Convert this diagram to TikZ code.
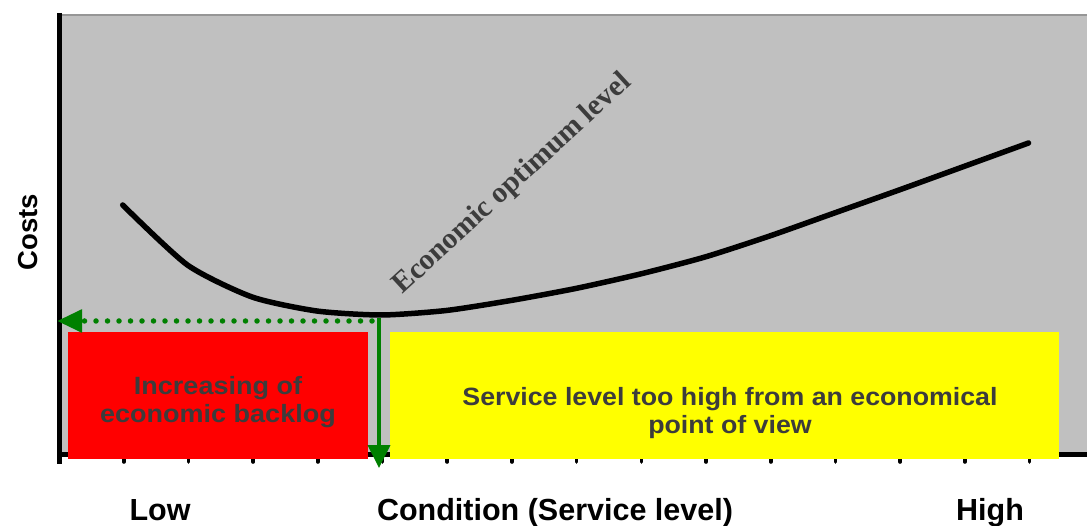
\documentclass[tikz,border=0pt]{standalone}
\usepackage{fontspec}
\setmainfont{Liberation Sans}
\newfontfamily\serifbold{Liberation Serif}
\usetikzlibrary{arrows.meta}
\definecolor{plotgray}{RGB}{192,192,192}
\definecolor{topline}{RGB}{150,150,150}
\definecolor{grn}{RGB}{0,128,0}
\definecolor{redbox}{RGB}{255,0,0}
\definecolor{yellowbox}{RGB}{255,255,0}
\definecolor{boxtext}{RGB}{60,60,60}
\tikzset{
  axisline/.style={line width=5pt, black},
  tickmark/.style={line width=3.6pt, black, line cap=round},
  costcurve/.style={line width=5.5pt, black, line cap=round, line join=round},
  zonebox/.style={draw=none, inner sep=0pt, anchor=north west},
  boxlabel/.style={align=center, text=boxtext, font=\fontsize{25}{28}\selectfont\bfseries},
  axislabel/.style={font=\fontsize{30.5}{34}\selectfont\bfseries, anchor=base},
  greenarrow/.style={grn, line width=4pt, -{Triangle[length=23pt,width=22pt]}},
  greendots/.style={grn, line width=5.5pt, line cap=round, dash pattern=on 0pt off 11.5pt, -{Triangle[length=25pt,width=22pt]}}
}
\begin{document}
\begin{tikzpicture}[x=1pt,y=-1pt]
\useasboundingbox (0,0) rectangle (1087,526);
\fill[white] (0,0) rectangle (1087,526);
% plot area
\fill[plotgray] (59,15) rectangle (1087,454);
\draw[topline, line width=1.5pt] (59,15) -- (1087,15);
% cost curve
\draw[costcurve] plot[smooth, tension=0.4] coordinates {
 (122.7,205) (187.4,265) (252.1,297) (316.8,311) (381.5,315) (446.2,310.5)
 (510.9,300.5) (575.6,288.5) (640.3,274) (705,257) (769.7,236) (834.4,213)
 (899.1,190) (963.8,166.5) (1028.5,143)};
% axes
\draw[axisline] (59,454) -- (1087,454);
\draw[axisline] (59,13) -- (59,464);
\foreach \k in {1,...,15} {
  \draw[tickmark] ({59+64.7*\k},455) -- ({59+64.7*\k},462);
}
% zones
\node[zonebox, fill=redbox, minimum width=300pt, minimum height=127pt] (red) at (68,332) {};
\node[zonebox, fill=yellowbox, minimum width=669pt, minimum height=127pt] (yellow) at (390,332) {};
\node[boxlabel, xscale=1.08] (redtxt) at (218,402) {Increasing of\\economic backlog};
\node[boxlabel, xscale=1.07] (yeltxt) at (730,413) {Service level too high from an economical\\point of view};
% optimum markers
\coordinate (opt) at (379,318);
\coordinate (optdot) at (372,321);
\coordinate (yhit) at (57,321);
\coordinate (xhit) at (379,468);
\draw[greendots] (optdot) -- (yhit);
\draw[greenarrow] (opt) -- (xhit);
% labels
\node[anchor=base west, rotate=42.5, text=boxtext, font=\serifbold\fontsize{29.5}{31}\selectfont\bfseries] (optlbl) at (400,297) {Economic optimum level};
\node[rotate=90, font=\fontsize{27.5}{31}\selectfont\bfseries] (costs) at (28,232) {Costs};
\node[axislabel] (low) at (160,520) {Low};
\node[axislabel] (cond) at (555,520) {Condition (Service level)};
\node[axislabel] (high) at (990,520) {High};
\end{tikzpicture}
\end{document}
